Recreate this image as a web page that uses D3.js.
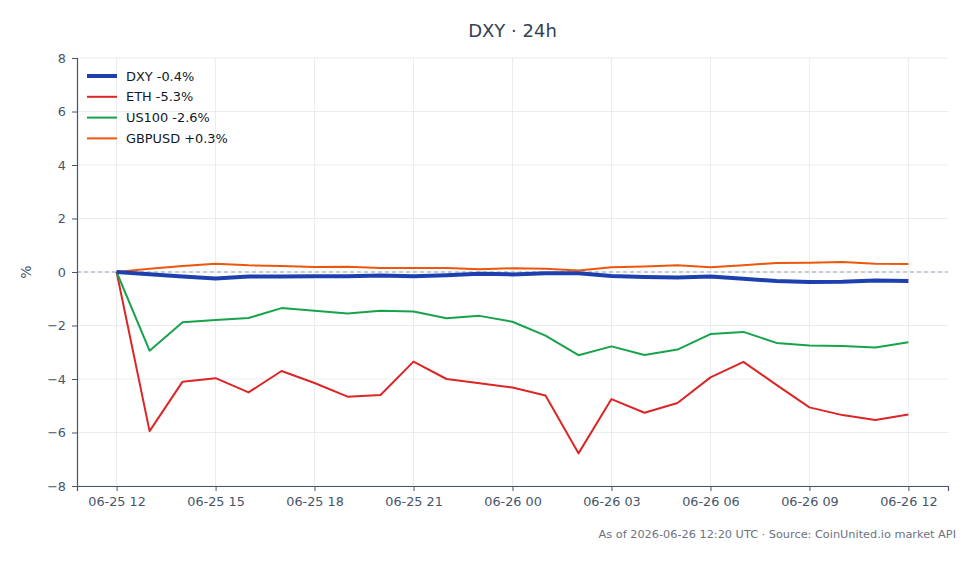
<!DOCTYPE html>
<html>
<head>
<meta charset="utf-8">
<script src="https://cdn.jsdelivr.net/npm/d3@7"></script>
<style>
  body { margin: 0; background: #fff; }
  svg { font-family: "DejaVu Sans", sans-serif; }
</style>
</head>
<body>
<script>
// hourly points, 06-25 12:00 -> 06-26 12:00 UTC
var hours = d3.range(25).map(function(i) { return new Date(Date.UTC(2026, 5, 25, 12 + i)); });

var dxy    = [0, -0.08, -0.17, -0.24, -0.17, -0.17, -0.16, -0.16, -0.13, -0.16, -0.12, -0.07, -0.09,
              -0.05, -0.05, -0.15, -0.19, -0.21, -0.17, -0.25, -0.34, -0.37, -0.36, -0.32, -0.34];
var eth    = [0, -5.95, -4.10, -3.97, -4.50, -3.70, -4.15, -4.66, -4.60, -3.35, -4.00, -4.16, -4.32,
              -4.62, -6.78, -4.75, -5.26, -4.90, -3.94, -3.36, -4.22, -5.06, -5.35, -5.53, -5.33];
var us100  = [0, -2.94, -1.88, -1.79, -1.72, -1.35, -1.45, -1.55, -1.45, -1.48, -1.73, -1.64, -1.86,
              -2.38, -3.11, -2.78, -3.10, -2.90, -2.32, -2.24, -2.65, -2.75, -2.77, -2.82, -2.63];
var gbpusd = [0, 0.12, 0.22, 0.31, 0.25, 0.22, 0.19, 0.20, 0.15, 0.15, 0.15, 0.10, 0.14,
              0.12, 0.06, 0.18, 0.21, 0.25, 0.18, 0.25, 0.34, 0.35, 0.37, 0.31, 0.30];

var seriesNames = ['DXY -0.4%', 'ETH -5.3%', 'US100 -2.6%', 'GBPUSD +0.3%'];
var seriesColors = ['#1e40af', '#dc2626', '#16a34a', '#ea580c'];
var seriesWidths = [4, 2, 2, 2];
var yTicks = [-8, -6, -4, -2, 0, 2, 4, 6, 8];

var W = 980, H = 564;
var margin = { top: 58, right: 32, bottom: 78, left: 77 };

var svg = d3.select('body').append('svg')
  .attr('width', W)
  .attr('height', H);

var t0 = hours[0], t1 = hours[hours.length - 1];
var pad = (t1 - t0) * 0.05;
var x = d3.scaleUtc()
  .domain([new Date(+t0 - pad), new Date(+t1 + pad)])
  .range([margin.left, W - margin.right]);
var y = d3.scaleLinear()
  .domain([-8, 8])
  .range([H - margin.bottom, margin.top]);

var xTicks = d3.range(0, 25, 3).map(function(i) { return hours[i]; });
var fmt = d3.utcFormat('%m-%d %H');

// grid
svg.append('g').selectAll('line.gx')
  .data(xTicks).enter().append('line')
  .attr('x1', function(d) { return x(d); })
  .attr('x2', function(d) { return x(d); })
  .attr('y1', margin.top).attr('y2', H - margin.bottom)
  .attr('stroke', '#e5e7eb').attr('stroke-width', 0.8);
svg.append('g').selectAll('line.gy')
  .data(yTicks).enter().append('line')
  .attr('y1', function(d) { return y(d); })
  .attr('y2', function(d) { return y(d); })
  .attr('x1', margin.left).attr('x2', W - margin.right)
  .attr('stroke', '#e5e7eb').attr('stroke-width', 0.8);

// zero line
svg.append('line')
  .attr('x1', margin.left).attr('x2', W - margin.right)
  .attr('y1', y(0)).attr('y2', y(0))
  .attr('stroke', '#94a3b8').attr('stroke-width', 1)
  .attr('stroke-dasharray', '4,3');

// axes
var xAxis = svg.append('g')
  .attr('transform', 'translate(0,' + (H - margin.bottom) + ')')
  .call(d3.axisBottom(x).tickValues(xTicks).tickFormat(fmt).tickSizeOuter(0).tickSize(5).tickPadding(6));
var yAxis = svg.append('g')
  .attr('transform', 'translate(' + margin.left + ',0)')
  .call(d3.axisLeft(y).tickValues(yTicks).tickFormat(function(d) { return d < 0 ? '\u2212' + Math.abs(d) : d; }).tickSizeOuter(0).tickSize(5).tickPadding(6));

[xAxis, yAxis].forEach(function(a) {
  a.select('.domain').attr('stroke', '#475569').attr('stroke-width', 1.2);
  a.selectAll('.tick line').attr('stroke', '#475569');
  a.selectAll('.tick text').attr('fill', '#475569').style('font-size', '12.8px')
    .style('font-family', '"DejaVu Sans", sans-serif');
});

svg.append('text')
  .attr('transform', 'translate(31,' + y(0) + ') rotate(-90)')
  .attr('text-anchor', 'middle')
  .attr('fill', '#475569')
  .style('font-size', '14px')
  .text('%');

// lines
var line = d3.line()
  .x(function(d, i) { return x(hours[i]); })
  .y(function(d) { return y(d); });

var allSeries = [dxy, eth, us100, gbpusd];
// draw thick DXY last so it sits on top
[1, 2, 3, 0].forEach(function(k) {
  svg.append('path')
    .datum(allSeries[k])
    .attr('d', line)
    .attr('fill', 'none')
    .attr('stroke', seriesColors[k])
    .attr('stroke-width', seriesWidths[k])
    .attr('stroke-linejoin', 'round');
});

// legend
var legend = svg.append('g').attr('transform', 'translate(87,76)');
seriesNames.forEach(function(name, i) {
  var g = legend.append('g').attr('transform', 'translate(0,' + (i * 20.8) + ')');
  g.append('line').attr('x1', 0).attr('x2', 30)
    .attr('stroke', seriesColors[i]).attr('stroke-width', seriesWidths[i]);
  g.append('text').attr('x', 39).attr('dy', '0.35em')
    .attr('fill', '#111827').style('font-size', '12.9px')
    .text(name);
});

// title
svg.append('text')
  .attr('x', (margin.left + W - margin.right) / 2)
  .attr('y', 37)
  .attr('text-anchor', 'middle')
  .attr('fill', '#334155')
  .style('font-size', '18px')
  .text('DXY \u00b7 24h');

// footer
svg.append('text')
  .attr('x', 956)
  .attr('y', 538)
  .attr('text-anchor', 'end')
  .attr('fill', '#6b7280')
  .style('font-size', '11.3px')
  .text('As of 2026-06-26 12:20 UTC \u00b7 Source: CoinUnited.io market API');
</script>
</body>
</html>
